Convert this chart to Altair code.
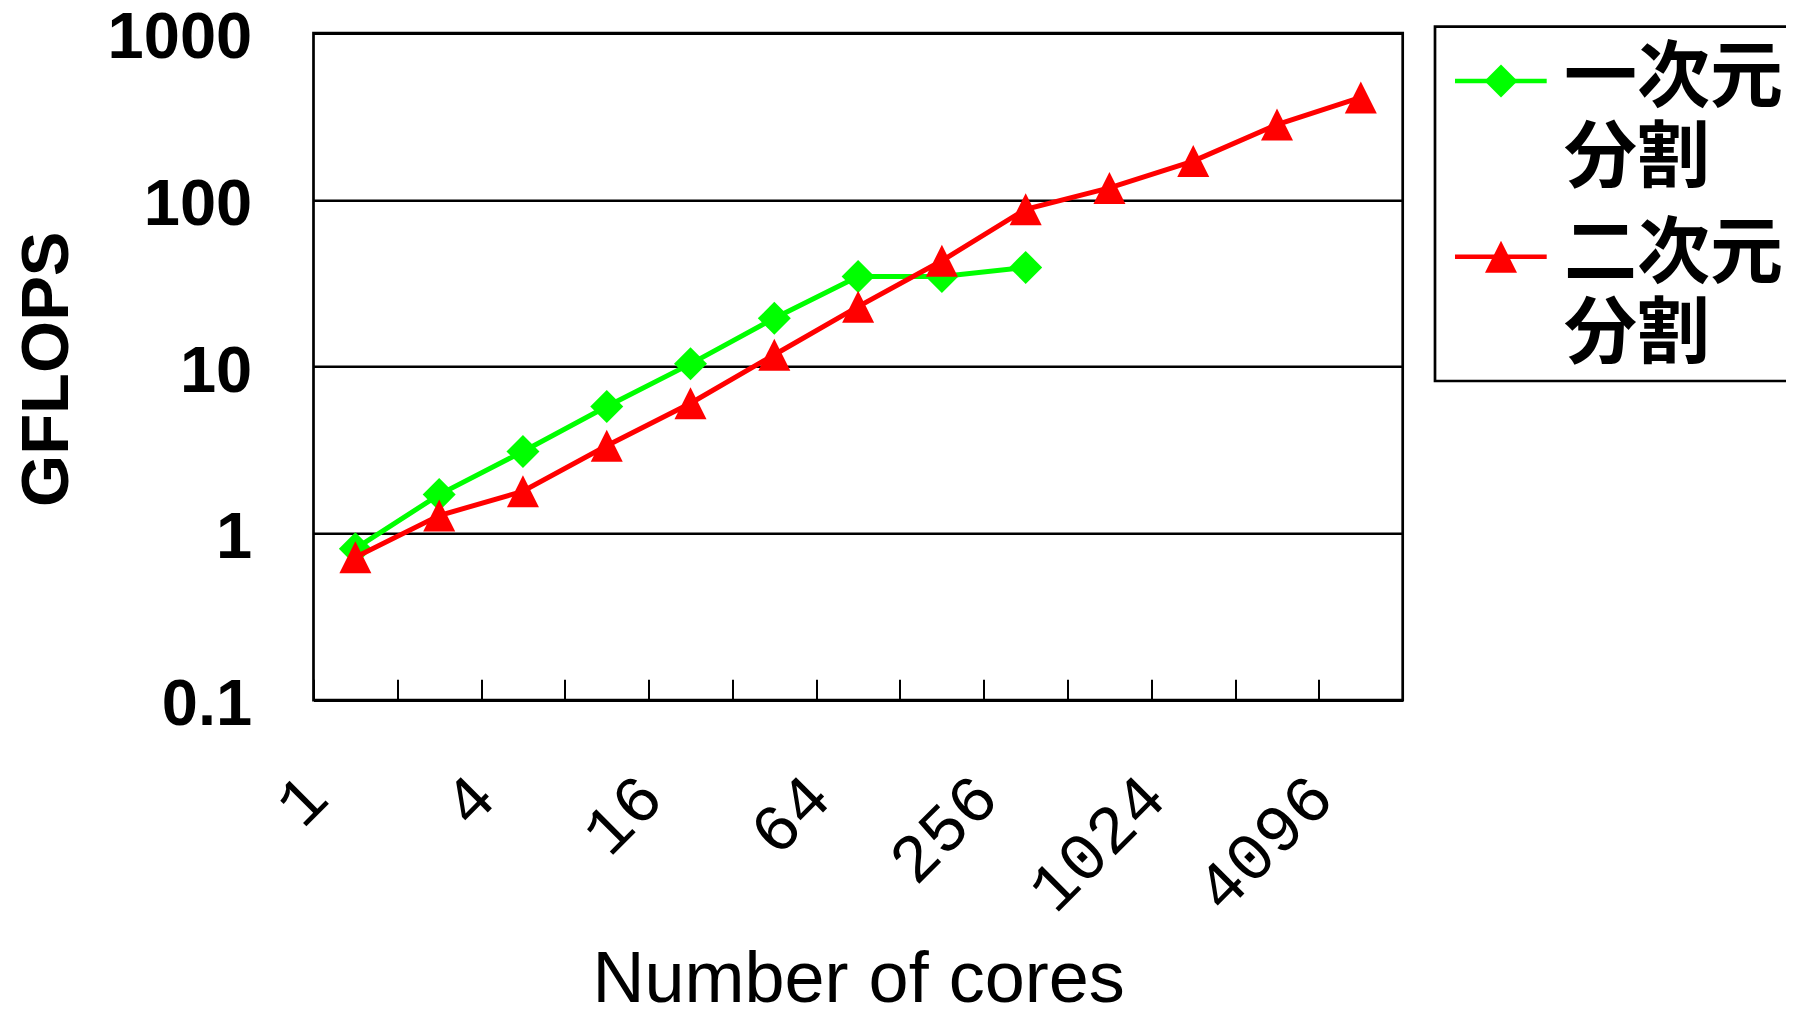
import altair as alt
import pandas as pd

# ---- data ----
cores = ["1", "2", "4", "8", "16", "32", "64", "128", "256", "512", "1024", "2048", "4096"]
shown_core_labels = ["1", "4", "16", "64", "256", "1024", "4096"]
series_names = ["一次元分割", "二次元分割"]
legend_line1 = ["一次元", "二次元"]
legend_line2 = ["分割", "分割"]
series_colors = ["#00ff00", "#ff0000"]
gflops_1d = [0.81, 1.71, 3.10, 5.77, 10.4, 19.5, 34.8, 34.8, 39.4]
gflops_2d = [0.72, 1.28, 1.79, 3.36, 6.04, 11.8, 22.9, 43.2, 88.0, 118.0, 171.0, 283.0, 412.0]
y_ticks = [0.1, 1, 10, 100, 1000]
chart_title = "次元分割の性能比較"

rows = []
for c, v in zip(cores, gflops_1d):
    rows.append({"cores": c, "gflops": v, "series": series_names[0]})
for c, v in zip(cores, gflops_2d):
    rows.append({"cores": c, "gflops": v, "series": series_names[1]})
df = pd.DataFrame(rows)
one_row = pd.DataFrame({"k": [0]})

# ---- layout ----
W, H = 1089.2, 667.0
PAD_L, PAD_T = 305.5, 25.2
SVG_W, SVG_H = 1778, 995
step = W / len(cores)
shapes = ["diamond", "M0,-1L1,1L-1,1Z"]
sizes = [1089, 1024]

label_expr = "indexof(" + str(shown_core_labels).replace("'", '"') + ", datum.label) >= 0 ? datum.label : ''"

x_enc = alt.X(
    "cores:O",
    scale=alt.Scale(type="point", domain=cores, padding=0.5),
    axis=alt.Axis(
        title="Number of cores",
        titleFont="Liberation Sans", titleFontSize=72, titleFontWeight="normal", titleColor="black",
        titleX=W / 2, titleY=993 - (PAD_T + H - 21), titleBaseline="alphabetic", titleAlign="center",
        labelFont="Liberation Mono", labelFontSize=67, labelColor="black", labelFontWeight="normal",
        labelAngle=315, labelAlign="right", labelBaseline="middle",
        labelPadding=86.8, labelOffset=3, labelExpr=label_expr, labelOverlap=False,
        tickOffset=-step / 2, ticks=True, tickSize=21, tickWidth=2, tickColor="black",
        domain=False, grid=False, offset=-21,
    ),
)
y_enc = alt.Y(
    "gflops:Q",
    scale=alt.Scale(type="log", domain=[0.1, 1000], nice=False),
    axis=alt.Axis(
        values=y_ticks, format="~g",
        title="GFLOPS",
        titleFont="Liberation Sans", titleFontSize=67, titleFontWeight="bold", titleColor="black",
        titleAngle=270, titleX=-266, titleY=H / 2 + 2, titleAlign="center", titleBaseline="middle",
        labelFont="Liberation Sans", labelFontSize=65, labelFontWeight="bold", labelColor="black",
        labelPadding=61.8, labelOffset=4.5, labelOverlap=False, labelFlush=False,
        ticks=False, domain=False,
        grid=True, gridColor="black", gridWidth=2.5, gridOpacity=1,
    ),
)

layers = []
for i, s in enumerate(series_names):
    base = alt.Chart(df).transform_filter(alt.datum.series == s)
    layers.append(base.mark_line(color=series_colors[i], strokeWidth=5).encode(x=x_enc, y=y_enc))
    layers.append(
        base.mark_point(filled=True, opacity=1, shape=shapes[i], size=sizes[i],
                        color=series_colors[i], strokeWidth=0).encode(x=x_enc, y=y_enc)
    )

# ---- legend (drawn box, line samples, markers, labels) ----
lg_left, lg_top, lg_bottom = 1121.5, -6.5, 347.8
lg_entry_y = [47.8, 223.5]
layers.append(
    alt.Chart(one_row).mark_rect(fillOpacity=0, stroke="black", strokeWidth=2.7).encode(
        x=alt.value(lg_left), x2=alt.value(lg_left + 600), y=alt.value(lg_top), y2=alt.value(lg_bottom)
    )
)
for i, s in enumerate(series_names):
    yy = lg_entry_y[i]
    layers.append(
        alt.Chart(one_row).mark_rule(color=series_colors[i], strokeWidth=4.5).encode(
            x=alt.value(1141.5), x2=alt.value(1233.2), y=alt.value(yy)
        )
    )
    layers.append(
        alt.Chart(one_row).mark_point(filled=True, opacity=1, shape=shapes[i], size=sizes[i],
                                      color=series_colors[i], strokeWidth=0).encode(
            x=alt.value(1187.5), y=alt.value(yy)
        )
    )
    for j, txt in enumerate([legend_line1[i], legend_line2[i]]):
        layers.append(
            alt.Chart(one_row).mark_text(
                align="left", baseline="alphabetic", font="Noto Sans CJK JP", fontSize=73,
                fontWeight="bold", color="black",
            ).encode(x=alt.value(1250.5), y=alt.value(yy + 20 + 80 * j), text=alt.value(txt))
        )

chart = (
    alt.layer(*layers)
    .properties(
        width=W, height=H,
        title=alt.TitleParams(chart_title, font="Noto Sans CJK JP", fontSize=66, color="black",
                              anchor="middle", baseline="bottom", offset=20, dx=48),
        padding={"left": PAD_L, "top": PAD_T, "right": SVG_W - PAD_L - W, "bottom": SVG_H - PAD_T - H},
        autosize=alt.AutoSizeParams(type="none"),
        background="white",
    )
    .configure_view(stroke="black", strokeWidth=2.7)
)

chart.save("out.html", embed_options={"renderer": "svg", "actions": False})
